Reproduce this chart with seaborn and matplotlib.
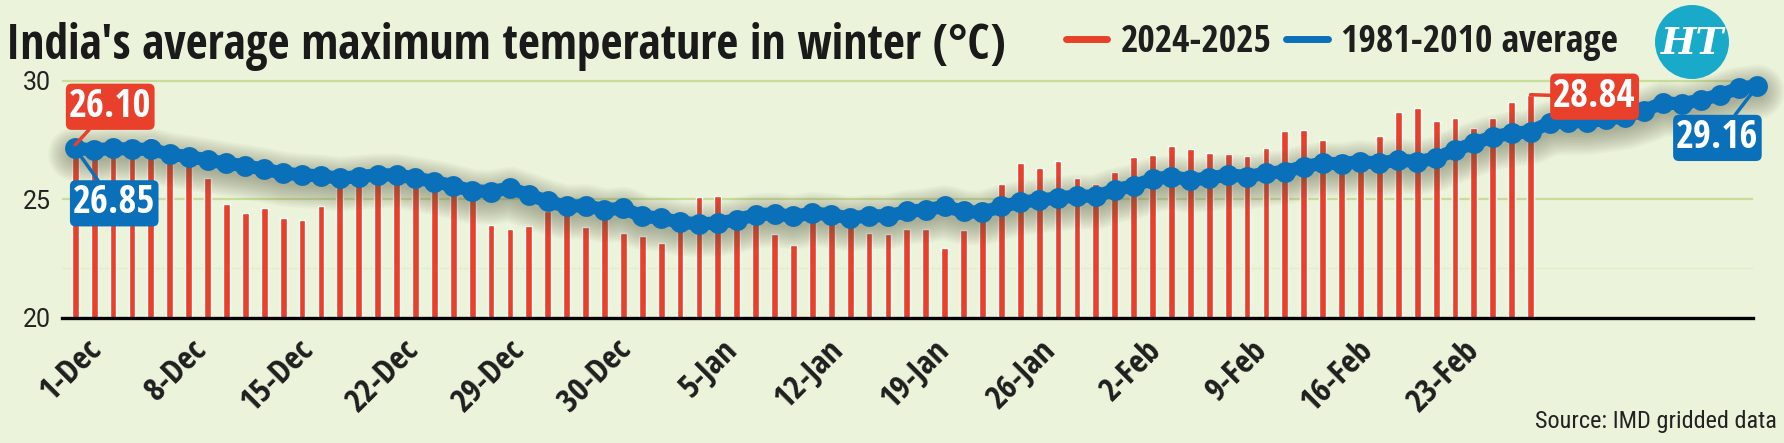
import numpy as np
import pandas as pd
import seaborn as sns
import matplotlib.pyplot as plt
from matplotlib.lines import Line2D
from matplotlib.patches import Circle

# ---- data ----
avg_1981_2010 = [27.15, 27.08, 27.15, 27.11, 27.11, 26.90, 26.80, 26.66, 26.52, 26.41,
                 26.27, 26.10, 26.03, 25.99, 25.89, 25.96, 26.03, 26.03, 25.89, 25.75,
                 25.57, 25.36, 25.33, 25.47, 25.19, 24.91, 24.70, 24.74, 24.56, 24.63,
                 24.28, 24.21, 24.03, 23.97, 24.00, 24.14, 24.35, 24.39, 24.28, 24.42,
                 24.35, 24.21, 24.31, 24.30, 24.49, 24.56, 24.70, 24.49, 24.45, 24.70,
                 24.87, 24.98, 25.05, 25.15, 25.12, 25.40, 25.57, 25.85, 25.96, 25.82,
                 25.89, 26.03, 25.96, 26.10, 26.17, 26.38, 26.52, 26.50, 26.59, 26.52,
                 26.66, 26.59, 26.73, 27.08, 27.36, 27.64, 27.78, 27.85, 28.23, 28.27,
                 28.27, 28.37, 28.49, 28.74, 29.07, 29.02, 29.19, 29.40, 29.68, 29.78]

temp_2024_25 = [27.30, 27.20, 27.50, 27.55, 27.60, 27.00, 26.90, 25.90, 24.80, 24.43,
                24.63, 24.22, 24.11, 24.73, 25.70, 25.80, 25.80, 25.70, 25.50, 25.40,
                25.30, 25.20, 23.93, 23.76, 23.87, 24.50, 24.50, 23.83, 24.30, 23.60,
                23.46, 23.14, 24.00, 25.09, 25.16, 24.10, 24.10, 23.52, 23.06, 24.20,
                24.20, 24.10, 23.58, 23.55, 23.74, 23.74, 22.95, 23.69, 24.20, 25.65,
                26.52, 26.31, 26.62, 25.88, 25.65, 26.16, 26.79, 26.86, 27.24, 27.14,
                26.96, 26.93, 26.84, 27.18, 27.87, 27.91, 27.52, 26.90, 26.90, 27.66,
                28.68, 28.86, 28.29, 28.43, 28.02, 28.43, 29.09, 29.41]

tick_labels = ['1-Dec', '8-Dec', '15-Dec', '22-Dec', '29-Dec', '30-Dec', '5-Jan',
               '12-Jan', '19-Jan', '26-Jan', '2-Feb', '9-Feb', '16-Feb', '23-Feb']

first_2024_label = '26.10'
first_avg_label = '26.85'
last_2024_label = '28.84'
last_avg_label = '29.16'

RED = '#E8402A'
BLUE = '#0A70B9'
BG = '#EBF3DA'
GRID = '#C9DD9A'
TEAL = '#1AAAC9'
INK = '#1e1e1e'

BOLD_COND = ['Open Sans Condensed', 'Roboto Condensed', 'DejaVu Sans']
REG_COND = ['Roboto Condensed', 'DejaVu Sans']

df_avg = pd.DataFrame({'day': np.arange(len(avg_1981_2010)), 'temp': avg_1981_2010})
df_now = pd.DataFrame({'day': np.arange(len(temp_2024_25)), 'temp': temp_2024_25})

sns.set_theme(style='white')
plt.rcParams['font.family'] = BOLD_COND

fig = plt.figure(figsize=(17.84, 4.43), dpi=100, facecolor=BG)
ax = fig.add_axes([0.03475, 0.2822, 0.9477, 0.5678])
ax.set_facecolor(BG)

# bars
sns.barplot(data=df_now, x='day', y='temp', native_scale=True, width=0.36,
            color=RED, saturation=1, errorbar=None, ax=ax, zorder=2)

# soft shadow under the average line
for k in range(14):
    ax.plot(df_avg['day'], df_avg['temp'] - 0.25, color='#5f6048', alpha=0.04,
            lw=8 + k * 2.4, solid_capstyle='round', zorder=3, clip_on=False)

sns.lineplot(data=df_avg, x='day', y='temp', color=BLUE, lw=9.5, marker='o',
             markersize=15, markeredgewidth=0, ax=ax, zorder=4, clip_on=False)

ax.set_xlim(-0.7, 88.75)
ax.set_ylim(20, 30.6)
ax.set_yticks([20, 25, 30])
ax.set_yticklabels(['20', '25', '30'], fontsize=18, family=['Roboto', 'DejaVu Sans'],
                   color='#222222')
ax.axhline(22.1, color='#E2EDC8', lw=1, zorder=1)
for v in [25, 30]:
    ax.axhline(v, color=GRID, lw=1.6, zorder=1)

ticks = np.linspace(0.5, 73.4, len(tick_labels))
ax.set_xticks(ticks)
ax.set_xticklabels(tick_labels, rotation=45, ha='right', va='top', rotation_mode='anchor',
                   fontsize=24, fontweight='bold', color=INK, family=BOLD_COND)
ax.tick_params(axis='x', length=0, pad=11)
ax.tick_params(axis='y', length=0, pad=8)
ax.set_xlabel('')
ax.set_ylabel('')
for s in ['top', 'right', 'left']:
    ax.spines[s].set_visible(False)
ax.spines['bottom'].set_color('black')
ax.spines['bottom'].set_linewidth(2.4)
ax.spines['bottom'].set_zorder(5)

# value call-outs
def callout(x, y, text, color, dx, dy):
    ax.annotate(text, xy=(x, y), xytext=(dx, dy), textcoords='offset pixels',
                ha='center', va='center', fontsize=28, fontweight='bold', color='white',
                family=BOLD_COND,
                bbox=dict(boxstyle='round,pad=0.08,rounding_size=0.15', fc=color, ec='none'),
                arrowprops=dict(arrowstyle='-', color=color, lw=2.5, shrinkA=0, shrinkB=0),
                zorder=6, annotation_clip=False)

callout(0, temp_2024_25[0], first_2024_label, RED, 35, 38)
callout(0, avg_1981_2010[0], first_avg_label, BLUE, 39, -55)
callout(len(temp_2024_25) - 1, temp_2024_25[-1], last_2024_label, RED, 64, -2)
callout(len(avg_1981_2010) - 1, avg_1981_2010[-1], last_avg_label, BLUE, -40, -52)

# title (fitted to the reference width), legend, source
title = fig.text(6 / 1784, 1 - 59 / 443, "India's average maximum temperature in winter (°C)",
                 fontsize=36, fontweight='bold', color='#1a1a1a', va='baseline', ha='left',
                 family=BOLD_COND)
renderer = fig.canvas.get_renderer()
tw = title.get_window_extent(renderer).width
title.set_fontsize(36 * 1000 / tw)

handles = [Line2D([], [], color=RED, lw=5), Line2D([], [], color=BLUE, lw=5)]
leg = fig.legend(handles, ['2024-2025', '1981-2010 average'], ncol=2, frameon=False,
                 loc='center left', bbox_to_anchor=(1066 / 1784, 1 - 42 / 443),
                 prop=dict(family=BOLD_COND, weight='bold', size=27),
                 handlelength=1.1, handletextpad=0.35, columnspacing=0.4, borderaxespad=0,
                 borderpad=0)
for t in leg.get_texts():
    t.set_color(INK)

fig.text(1777 / 1784, 1 - 428 / 443, 'Source: IMD gridded data', fontsize=17.5,
         color='#222222', ha='right', va='baseline', family=REG_COND)

# HT logo
lax = fig.add_axes([(1692 - 37) / 1784, (443 - 42 - 37) / 443, 74 / 1784, 74 / 443])
lax.set_xlim(0, 1)
lax.set_ylim(0, 1)
lax.set_aspect('equal')
lax.axis('off')
lax.add_patch(Circle((0.5, 0.5), 0.5, fc=TEAL, ec='none'))
lax.text(0.5, 0.48, 'HT', ha='center', va='center', color='white', fontsize=27,
         fontweight='bold', family=['DejaVu Serif'], style='italic')

fig.savefig('out.png', dpi=100, facecolor=BG)
